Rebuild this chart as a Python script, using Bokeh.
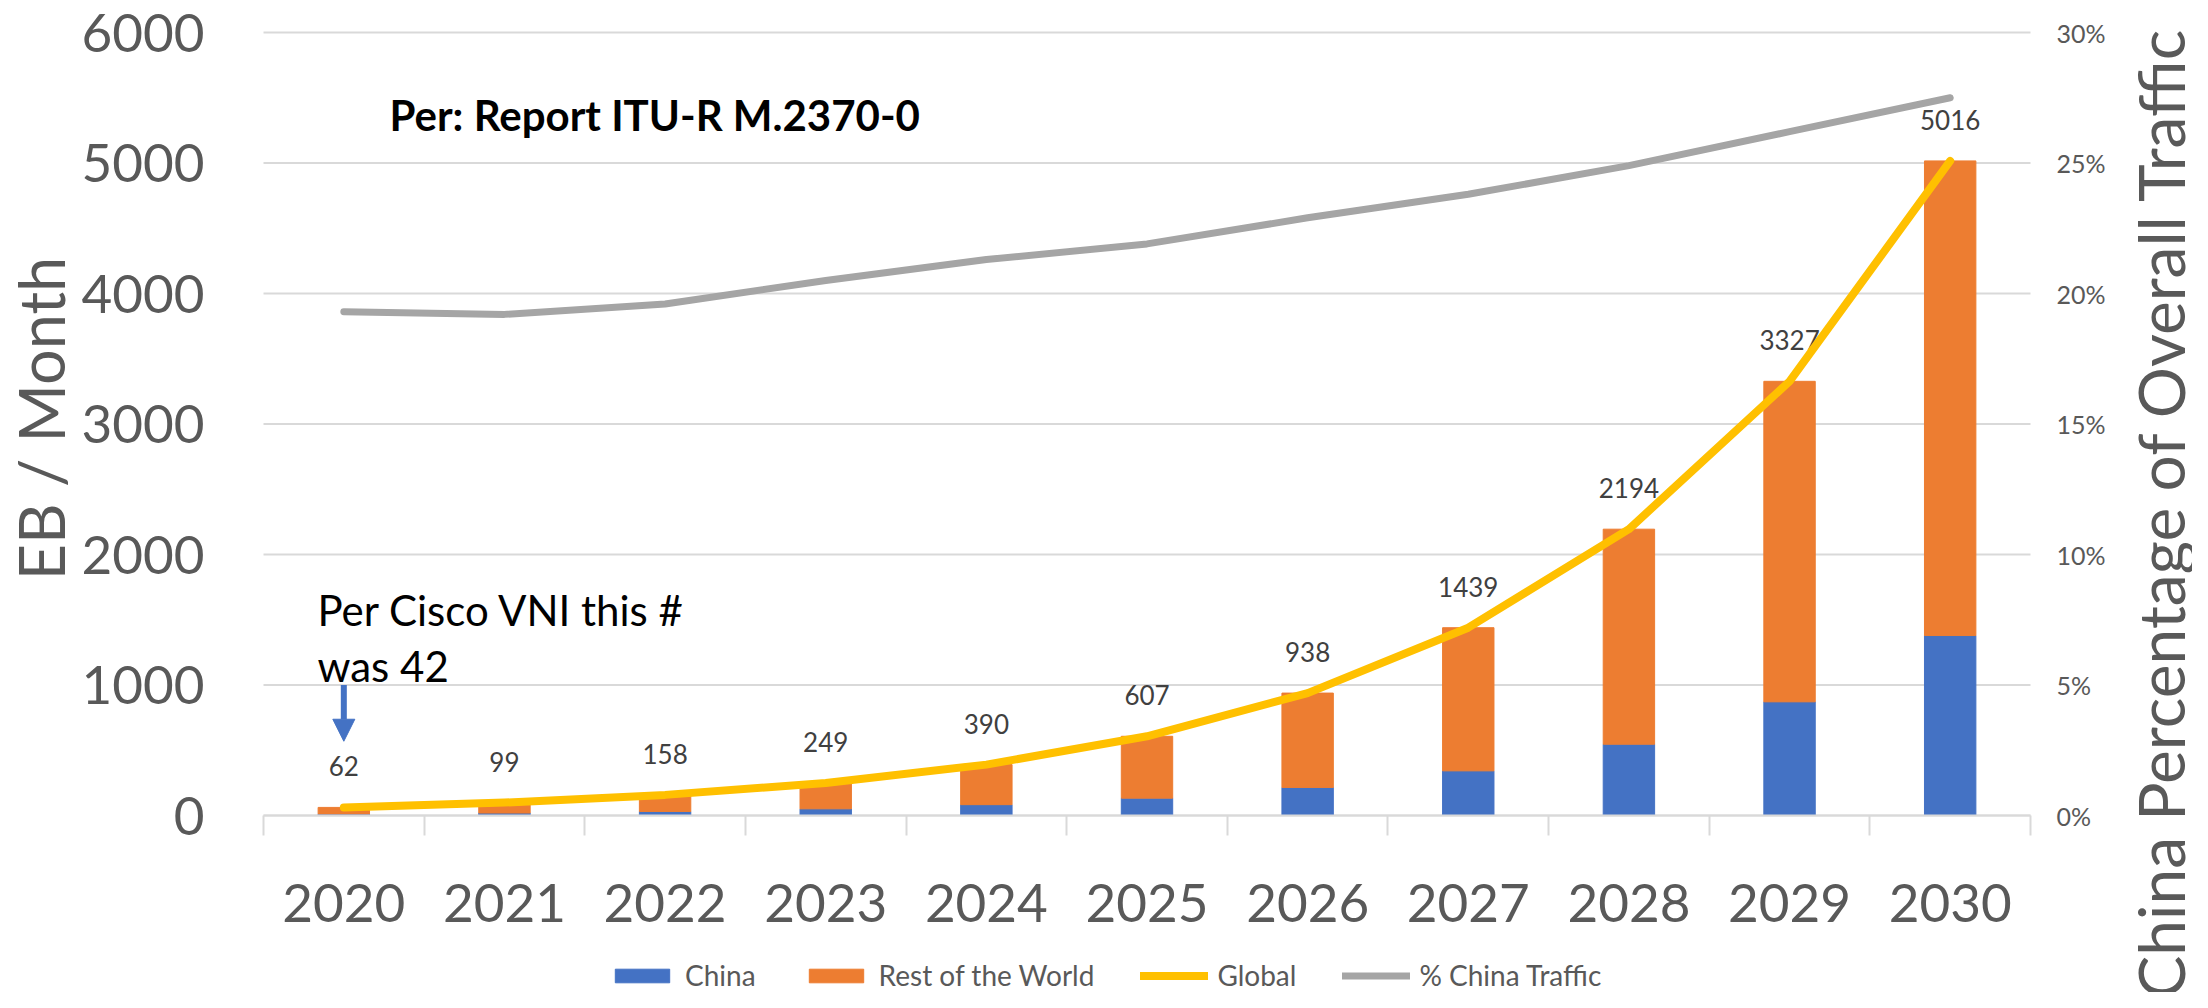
import math
from bokeh.plotting import figure
from bokeh.models import (Range1d, LinearAxis, FixedTicker, PrintfTickFormatter,
                          Legend, LegendItem, Label, Arrow, NormalHead, ColumnDataSource)
from bokeh.core.properties import value
from bokeh.embed import file_html
from bokeh.resources import INLINE

# ---------------- data ----------------
years = ["2020", "2021", "2022", "2023", "2024", "2025", "2026", "2027", "2028", "2029", "2030"]
china = [12, 19, 31, 51, 83, 133, 215, 342, 546, 871, 1379]
rest_of_world = [50, 80, 127, 198, 307, 474, 723, 1097, 1648, 2456, 3637]
global_total = [62, 99, 158, 249, 390, 607, 938, 1439, 2194, 3327, 5016]
pct_china = [19.3, 19.2, 19.6, 20.5, 21.3, 21.9, 22.9, 23.8, 24.9, 26.2, 27.5]
left_ticks = [0, 1000, 2000, 3000, 4000, 5000, 6000]
right_ticks = [0, 5, 10, 15, 20, 25, 30]
arrow_year = "2020"
arrow_from = 1000
arrow_to = 569

BLUE = "#4472C4"
ORANGE = "#ED7D31"
YELLOW = "#FFC000"
GRAY = "#A5A5A5"
GRID = "#D9D9D9"
TXT = "#595959"
FONT = "Lato"

# ---------------- layout (figure pixels) ----------------
FIG_W, FIG_H = 2192, 992
SLOT_LEFT, SLOT_RIGHT = 263, 2030      # x pixels of the first / last category boundary
Y0_PIX, YTOP_PIX = 815, 32             # y pixels (from top) of value 0 and of the top tick

nslots = len(years)
centers = [i + 0.5 for i in range(nslots)]
edges = [float(i) for i in range(nslots + 1)]

ppu_x = (SLOT_RIGHT - SLOT_LEFT) / nslots
x_start = -SLOT_LEFT / ppu_x
x_end = nslots + (FIG_W - SLOT_RIGHT) / ppu_x

def span(vmax):
    ppu = (Y0_PIX - YTOP_PIX) / vmax
    return -(FIG_H - Y0_PIX) / ppu, vmax + YTOP_PIX / ppu

y_start, y_end = span(left_ticks[-1])
p_start, p_end = span(right_ticks[-1])

src = ColumnDataSource(dict(x=centers, year=years, china=china, rest=rest_of_world, total=global_total,
                            label=[str(v) for v in global_total], pct=pct_china))

p = figure(width=FIG_W, height=FIG_H, x_range=Range1d(x_start, x_end), y_range=Range1d(y_start, y_end),
           output_backend="svg", toolbar_location=None, x_axis_location=None, y_axis_location=None,
           min_border=0)
p.outline_line_color = None
p.grid.visible = False
p.background_fill_color = "white"
p.border_fill_color = "white"
p.extra_y_ranges = {"pct": Range1d(p_start, p_end)}

# horizontal gridlines across the category area
p.segment(x0=edges[0], x1=edges[-1], y0=left_ticks, y1=left_ticks, line_color=GRID, line_width=2)

# left axis
yl = LinearAxis(ticker=FixedTicker(ticks=left_ticks), fixed_location=edges[0])
yl.axis_line_color = None
yl.major_tick_line_color = None
yl.minor_tick_line_color = None
yl.major_tick_out = 0
yl.major_tick_in = 0
yl.major_label_text_font = FONT
yl.major_label_text_font_size = "53px"
yl.major_label_text_color = TXT
yl.major_label_standoff = 59
p.add_layout(yl, "left")

# right axis
yr = LinearAxis(y_range_name="pct", ticker=FixedTicker(ticks=right_ticks),
                formatter=PrintfTickFormatter(format="%d%%"), fixed_location=edges[-1])
yr.axis_line_color = None
yr.major_tick_line_color = None
yr.minor_tick_line_color = None
yr.major_tick_out = 0
yr.major_tick_in = 0
yr.major_label_text_font = FONT
yr.major_label_text_font_size = "25px"
yr.major_label_text_color = TXT
yr.major_label_standoff = 26
p.add_layout(yr, "right")

# bottom axis: year labels at slot centres, tick marks at slot boundaries
xb = LinearAxis(ticker=FixedTicker(ticks=centers, minor_ticks=edges), fixed_location=0,
                bounds=(edges[0], edges[-1]),
                major_label_overrides={c: y for c, y in zip(centers, years)})
xb.axis_line_color = GRID
xb.axis_line_width = 2
xb.major_tick_line_color = None
xb.minor_tick_line_color = GRID
xb.minor_tick_line_width = 2
xb.minor_tick_in = 0
xb.minor_tick_out = 20
xb.major_tick_in = 0
xb.major_tick_out = 0
xb.major_label_text_font = FONT
xb.major_label_text_font_size = "53px"
xb.major_label_text_color = TXT
xb.major_label_standoff = 48
p.add_layout(xb, "below")

# bars
bars = p.vbar_stack(["china", "rest"], x="x", width=0.32, color=[BLUE, ORANGE], source=src)

# data labels
p.text(x="x", y="total", text="label", source=src, text_align="center", text_baseline="middle",
       y_offset=-41, text_font=value(FONT), text_font_size="26px", text_color="#404040")

# lines
r_glob = p.line(x="x", y="total", source=src, line_color=YELLOW, line_width=8,
                line_join="round", line_cap="round")
r_pct = p.line(x="x", y="pct", source=src, y_range_name="pct", line_color=GRAY, line_width=7,
               line_join="round", line_cap="round")

# arrow annotation
ax = centers[years.index(arrow_year)]
p.add_layout(Arrow(x_start=ax, y_start=arrow_from, x_end=ax, y_end=arrow_to,
                   line_color=BLUE, line_width=6,
                   end=NormalHead(size=22, fill_color=BLUE, line_color=BLUE)))

# texts
p.add_layout(Label(x=389, y=878, x_units="screen", y_units="screen", text="Per: Report  ITU-R  M.2370-0",
                   text_font=FONT, text_font_size="42px", text_font_style="bold", text_color="black",
                   text_baseline="alphabetic"))
p.add_layout(Label(x=317, y=383, x_units="screen", y_units="screen", text="Per Cisco VNI this #",
                   text_font=FONT, text_font_size="42px", text_color="black", text_baseline="alphabetic"))
p.add_layout(Label(x=317, y=327, x_units="screen", y_units="screen", text="was 42",
                   text_font=FONT, text_font_size="42px", text_color="black", text_baseline="alphabetic"))

# axis titles (both read bottom to top)
p.add_layout(Label(x=40, y=574, x_units="screen", y_units="screen",
                   text="EB / Month", angle=math.pi / 2,
                   text_font=FONT, text_font_size="63px", text_color=TXT,
                   text_align="center", text_baseline="middle"))
p.add_layout(Label(x=2160, y=480, x_units="screen", y_units="screen",
                   text="China Percentage of Overall Traffic", angle=math.pi / 2,
                   text_font=FONT, text_font_size="64px", text_color=TXT,
                   text_align="center", text_baseline="middle"))

# legend at the bottom
legend = Legend(items=[LegendItem(label="China", renderers=[bars[0]]),
                       LegendItem(label="Rest of the World", renderers=[bars[1]]),
                       LegendItem(label="Global", renderers=[r_glob]),
                       LegendItem(label="% China Traffic", renderers=[r_pct])],
                orientation="horizontal", location=(608, 0))
legend.glyph_width = 68
legend.glyph_height = 17
legend.label_standoff = 9
legend.spacing = 46
legend.padding = 0
legend.margin = 0
legend.border_line_color = None
legend.background_fill_alpha = 0
legend.label_text_font = FONT
legend.label_text_font_size = "28px"
legend.label_text_color = TXT
p.add_layout(legend)

open("out.html", "w").write(file_html(p, INLINE))
